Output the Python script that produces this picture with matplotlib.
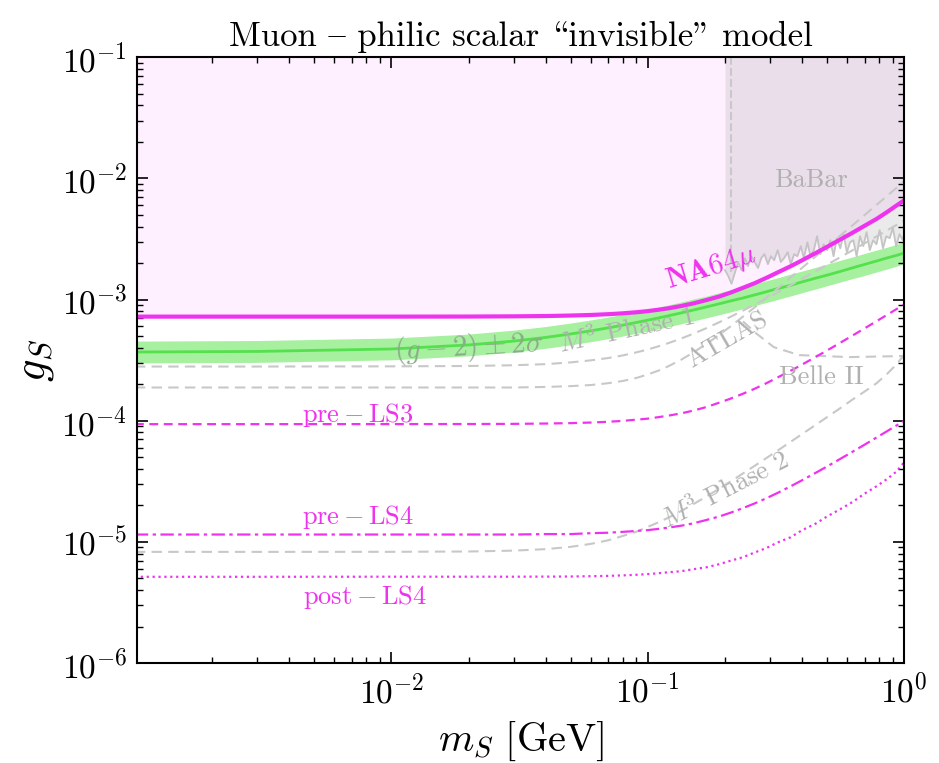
import numpy as np
import matplotlib
matplotlib.use("Agg")
import matplotlib.pyplot as plt

plt.rcParams['font.family'] = ['cmr10', 'DejaVu Serif']
plt.rcParams['mathtext.fontset'] = 'cm'
plt.rcParams['axes.unicode_minus'] = False
plt.rcParams['axes.formatter.use_mathtext'] = True

# common mass grid (GeV)
m = [1e-3, 0.003, 0.01, 0.02, 0.03, 0.04, 0.05, 0.06, 0.07, 0.08, 0.09, 0.1, 0.11, 0.12, 0.135, 0.15,
     0.17, 0.19, 0.21, 0.235, 0.26, 0.29, 0.32, 0.36, 0.4, 0.45, 0.5, 0.56, 0.63, 0.7, 0.78, 0.86, 0.93, 1.0]

na64 = [7.23e-4, 7.23e-4, 7.23e-4, 7.24e-4, 7.27e-4, 7.31e-4, 7.38e-4, 7.46e-4, 7.57e-4, 7.70e-4, 7.85e-4,
        8.03e-4, 8.24e-4, 8.46e-4, 8.85e-4, 9.28e-4, 9.93e-4, 1.06e-3, 1.14e-3, 1.25e-3, 1.36e-3, 1.51e-3,
        1.67e-3, 1.88e-3, 2.11e-3, 2.41e-3, 2.72e-3, 3.11e-3, 3.57e-3, 4.06e-3, 4.63e-3, 5.30e-3, 5.95e-3, 6.60e-3]
pre_ls3 = [9.37e-5, 9.37e-5, 9.38e-5, 9.39e-5, 9.42e-5, 9.48e-5, 9.55e-5, 9.66e-5, 9.80e-5, 9.97e-5, 1.02e-4,
           1.04e-4, 1.07e-4, 1.10e-4, 1.15e-4, 1.21e-4, 1.30e-4, 1.41e-4, 1.52e-4, 1.67e-4, 1.83e-4, 2.04e-4,
           2.27e-4, 2.58e-4, 2.91e-4, 3.35e-4, 3.80e-4, 4.37e-4, 5.06e-4, 5.78e-4, 6.63e-4, 7.51e-4, 8.31e-4, 9.12e-4]
pre_ls4 = [1.15e-5, 1.15e-5, 1.15e-5, 1.15e-5, 1.15e-5, 1.16e-5, 1.16e-5, 1.18e-5, 1.19e-5, 1.21e-5, 1.23e-5,
           1.25e-5, 1.28e-5, 1.31e-5, 1.36e-5, 1.42e-5, 1.52e-5, 1.62e-5, 1.74e-5, 1.90e-5, 2.07e-5, 2.29e-5,
           2.53e-5, 2.87e-5, 3.23e-5, 3.70e-5, 4.19e-5, 4.81e-5, 5.56e-5, 6.34e-5, 7.27e-5, 8.23e-5, 9.10e-5, 9.99e-5]
post_ls4 = [5.15e-6, 5.15e-6, 5.16e-6, 5.16e-6, 5.16e-6, 5.17e-6, 5.18e-6, 5.21e-6, 5.24e-6, 5.29e-6, 5.35e-6,
            5.42e-6, 5.51e-6, 5.61e-6, 5.73e-6, 5.94e-6, 6.18e-6, 6.55e-6, 6.98e-6, 7.47e-6, 8.15e-6, 8.89e-6,
            9.87e-6, 1.09e-5, 1.25e-5, 1.41e-5, 1.62e-5, 1.85e-5, 2.14e-5, 2.50e-5, 2.88e-5, 3.32e-5, 3.79e-5, 4.55e-5]

g2_mid = [3.69e-4, 3.73e-4, 3.91e-4, 4.22e-4, 4.54e-4, 4.87e-4, 5.20e-4, 5.52e-4, 5.84e-4, 6.15e-4, 6.46e-4,
          6.76e-4, 7.05e-4, 7.34e-4, 7.76e-4, 8.18e-4, 8.71e-4, 9.23e-4, 9.73e-4, 1.03e-3, 1.09e-3, 1.16e-3,
          1.23e-3, 1.31e-3, 1.40e-3, 1.50e-3, 1.59e-3, 1.70e-3, 1.83e-3, 1.95e-3, 2.08e-3, 2.21e-3, 2.31e-3, 2.42e-3]
g2_hi = [4.54e-4, 4.59e-4, 4.81e-4, 5.19e-4, 5.59e-4, 5.99e-4, 6.40e-4, 6.79e-4, 7.18e-4, 7.57e-4, 7.94e-4,
         8.31e-4, 8.67e-4, 9.03e-4, 9.55e-4, 1.01e-3, 1.07e-3, 1.14e-3, 1.20e-3, 1.27e-3, 1.35e-3, 1.43e-3,
         1.51e-3, 1.62e-3, 1.72e-3, 1.84e-3, 1.96e-3, 2.10e-3, 2.25e-3, 2.40e-3, 2.56e-3, 2.71e-3, 2.85e-3, 2.98e-3]
g2_lo = [3.00e-4, 3.03e-4, 3.18e-4, 3.43e-4, 3.69e-4, 3.96e-4, 4.23e-4, 4.49e-4, 4.75e-4, 5.00e-4, 5.25e-4,
         5.49e-4, 5.73e-4, 5.97e-4, 6.31e-4, 6.65e-4, 7.08e-4, 7.50e-4, 7.91e-4, 8.41e-4, 8.89e-4, 9.45e-4,
         1.00e-3, 1.07e-3, 1.14e-3, 1.22e-3, 1.30e-3, 1.39e-3, 1.49e-3, 1.58e-3, 1.69e-3, 1.79e-3, 1.88e-3, 1.97e-3]

m3_phase1 = [2.80e-4, 2.80e-4, 2.81e-4, 2.83e-4, 2.87e-4, 2.93e-4, 3.03e-4, 3.15e-4, 3.29e-4, 3.46e-4, 3.66e-4,
             3.87e-4, 4.11e-4, 4.36e-4, 4.77e-4, 5.21e-4, 5.83e-4, 6.50e-4, 7.20e-4, 8.11e-4, 9.05e-4, 1.02e-3,
             1.14e-3, 1.31e-3, 1.49e-3, 1.71e-3, 1.94e-3, 2.22e-3, 2.56e-3, 2.91e-3, 3.32e-3, 3.74e-3, 4.11e-3, 4.49e-3]
atlas = [1.88e-4, 1.88e-4, 1.88e-4, 1.88e-4, 1.88e-4, 1.90e-4, 1.93e-4, 1.97e-4, 2.04e-4, 2.13e-4, 2.25e-4,
         2.41e-4, 2.59e-4, 2.81e-4, 3.19e-4, 3.64e-4, 4.33e-4, 5.12e-4, 6.00e-4, 7.23e-4, 8.58e-4, 1.04e-3,
         1.23e-3, 1.52e-3, 1.83e-3, 2.26e-3, 2.72e-3, 3.34e-3, 4.12e-3, 4.98e-3, 6.05e-3, 7.22e-3, 8.31e-3, 9.47e-3]
m3_phase2 = [8.27e-6, 8.27e-6, 8.28e-6, 8.33e-6, 8.47e-6, 8.71e-6, 9.10e-6, 9.63e-6, 1.03e-5, 1.12e-5, 1.21e-5,
             1.33e-5, 1.45e-5, 1.58e-5, 1.80e-5, 2.04e-5, 2.38e-5, 2.75e-5, 3.15e-5, 3.67e-5, 4.22e-5, 4.92e-5,
             5.65e-5, 6.68e-5, 7.77e-5, 9.20e-5, 1.07e-4, 1.26e-4, 1.50e-4, 1.74e-4, 2.04e-4, 2.45e-4, 2.90e-4, 3.50e-4]

belle_m = [0.235, 0.264, 0.310, 0.389, 0.61, 1.0]
belle_g = [6.6e-4, 5.28e-4, 4.05e-4, 3.48e-4, 3.35e-4, 3.42e-4]

babar_m = [0.200, 0.206, 0.212, 0.219, 0.225, 0.232, 0.239, 0.246, 0.253, 0.261, 0.269, 0.277, 0.285, 0.294,
           0.302, 0.311, 0.321, 0.330, 0.340, 0.351, 0.361, 0.372, 0.383, 0.395, 0.406, 0.419, 0.431, 0.444,
           0.457, 0.471, 0.485, 0.500, 0.515, 0.530, 0.546, 0.563, 0.580, 0.597, 0.615, 0.633, 0.652, 0.672,
           0.692, 0.713, 0.734, 0.756, 0.779, 0.802, 0.826, 0.851, 0.877, 0.903, 0.930, 0.958, 0.986, 1.0]
babar_g = [1.75e-3, 1.56e-3, 1.35e-3, 1.69e-3, 2.04e-3, 1.75e-3, 2.20e-3, 1.89e-3, 2.28e-3, 2.04e-3, 1.82e-3,
           2.20e-3, 2.37e-3, 1.96e-3, 2.28e-3, 2.11e-3, 2.56e-3, 2.04e-3, 2.20e-3, 2.46e-3, 1.96e-3, 2.37e-3,
           2.28e-3, 2.76e-3, 2.20e-3, 2.97e-3, 2.28e-3, 2.56e-3, 3.33e-3, 2.37e-3, 2.86e-3, 2.56e-3, 3.09e-3,
           2.28e-3, 3.21e-3, 2.65e-3, 3.47e-3, 2.46e-3, 2.97e-3, 3.09e-3, 2.28e-3, 3.33e-3, 2.76e-3, 3.60e-3,
           2.56e-3, 3.09e-3, 2.86e-3, 3.74e-3, 2.65e-3, 3.33e-3, 3.21e-3, 3.88e-3, 2.76e-3, 3.47e-3, 3.09e-3, 3.60e-3]

mag = '#ee33ee'
grey = '#c8c8c8'
tgrey = '#b0b0b0'

fig = plt.figure(figsize=(9.39, 7.63), dpi=100)
ax = fig.add_axes([0.146, 0.131, 0.817, 0.794])
ax.set_xscale('log')
ax.set_yscale('log')
ax.set_xlim(1.02e-3, 1.0)
ax.set_ylim(1e-6, 1e-1)

# excluded regions
ax.fill_between(m, na64, 1e-1, color='magenta', alpha=0.06, lw=0)
ax.fill_between(babar_m, babar_g, 1e-1, color='gray', alpha=0.16, lw=0)
ax.plot(babar_m, babar_g, color='#c4c4c4', lw=1.3)
ax.plot([0.212, 0.212], [1e-1, 1.7e-3], color=grey, lw=1.5, ls='--')

# g-2 band
ax.fill_between(m, g2_lo, g2_hi, color='#a6f0a0', lw=0)
ax.plot(m, g2_mid, color='#55e04d', lw=2)

# other experiments
for yy in (m3_phase1, atlas, m3_phase2):
    ax.plot(m, yy, color=grey, lw=1.5, ls='--', dashes=(5, 3))
ax.plot(belle_m, belle_g, color=grey, lw=1.5, ls='--', dashes=(5, 3))

# NA64mu
ax.plot(m, na64, color=mag, lw=3)
ax.plot(m, pre_ls3, color=mag, lw=1.6, ls='--', dashes=(4, 2.5))
ax.plot(m, pre_ls4, color=mag, lw=1.6, ls='-.', dashes=(6, 2, 1.5, 2))
ax.plot(m, post_ls4, color=mag, lw=1.6, ls=':')

# labels
ax.text(0.434, 9.66e-3, 'BaBar', color=tgrey, fontsize=19, ha='center', va='center')
ax.text(0.176, 1.82e-3, r'$\mathbf{NA64}\mu$', color=mag, fontsize=21,
        ha='center', va='center', rotation=17)
ax.text(0.02, 4.05e-4, r'$(g-2)\pm 2\sigma$', color='#8aab88', fontsize=21,
        ha='center', va='center', rotation=3)
ax.text(0.0828, 5.6e-4, r'$M^3$ Phase 1', color=tgrey, fontsize=19,
        ha='center', va='center', rotation=12)
ax.text(0.204, 4.62e-4, 'ATLAS', color=tgrey, fontsize=19,
        ha='center', va='center', rotation=30)
ax.text(0.474, 2.29e-4, 'Belle II', color=tgrey, fontsize=19, ha='center', va='center')
ax.text(0.2, 2.67e-5, r'$M^3$ Phase 2', color=tgrey, fontsize=19,
        ha='center', va='center', rotation=27)
ax.text(7.43e-3, 1.11e-4, r'$\mathrm{pre}-\mathrm{LS3}$', color=mag, fontsize=19, ha='center', va='center')
ax.text(7.43e-3, 1.60e-5, r'$\mathrm{pre}-\mathrm{LS4}$', color=mag, fontsize=19, ha='center', va='center')
ax.text(7.86e-3, 3.5e-6, r'$\mathrm{post}-\mathrm{LS4}$', color=mag, fontsize=19, ha='center', va='center')

# cmr10 keeps the TeX layout: "\" gives the opening quote, "{" the dash
ax.set_title('Muon { philic scalar \\invisible" model', fontsize=25, pad=8)
ax.set_xlabel(r'$m_S\ [\mathrm{GeV}]$', fontsize=29, labelpad=8)
ax.set_ylabel(r'$g_S$', fontsize=32)

ax.tick_params(which='both', direction='in', top=True, right=True, labelsize=24)
ax.tick_params(which='major', length=8, width=1.2, pad=7)
ax.tick_params(which='minor', length=4, width=1)
ax.yaxis.set_major_locator(matplotlib.ticker.LogLocator(base=10, numticks=10))
ax.yaxis.set_minor_locator(matplotlib.ticker.LogLocator(base=10, subs=np.arange(2, 10), numticks=10))
for s in ax.spines.values():
    s.set_linewidth(1.5)

fig.savefig('out.png', dpi=100)
